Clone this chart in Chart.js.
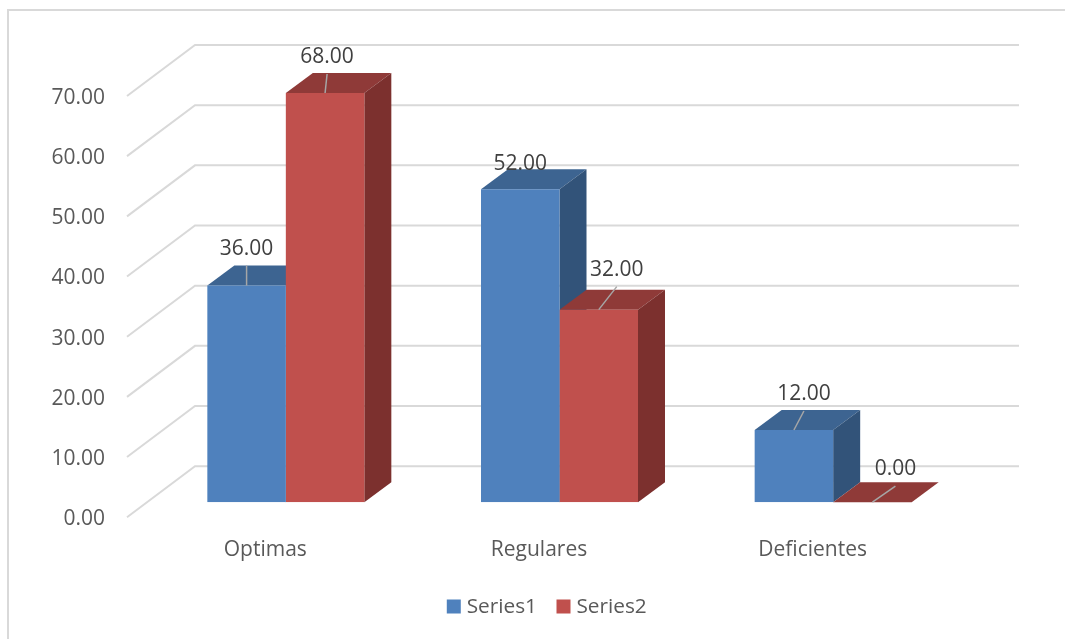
<!DOCTYPE html>
<html>
<head>
<meta charset="utf-8">
<style>
  html, body { margin: 0; padding: 0; background: #fff; overflow: hidden; }
  #wrap { position: relative; width: 1065px; height: 639px; }
</style>
<script src="https://cdn.jsdelivr.net/npm/chart.js@4/dist/chart.umd.min.js"></script>
</head>
<body>
<div id="wrap"><canvas id="chart"></canvas></div>
<script>
const categories = ['Optimas', 'Regulares', 'Deficientes'];
const series1 = [36, 52, 12];
const series2 = [68, 32, 0];
const yTicks = [0, 10, 20, 30, 40, 50, 60, 70];

const FONT = '"Open Sans", sans-serif';

// extrusion of the bars, and of the floor/wall box around them
const BAR_DEPTH = { x: 27, y: -20 };
const FRONT_EDGE = { x: -22, y: 15 };
const BACK_WALL = { x: 46, y: -36 };
const WALL_RIGHT = 1019;

const shades = [
  { top: '#3d6491', side: '#325379' },
  { top: '#8f3a38', side: '#7c302e' },
];

// where each value label sits relative to the top of its bar, per dataset
const labelShift = [
  [[0, -38], [0, -26], [10, -37]],
  [[2, -37], [18, -41], [23, -34]],
];
// bar 52.00 has its label sitting on the bar, without a leader line
const noLeader = [[false, true, false], [false, false, false]];

const polygon = (ctx, points, color) => {
  ctx.fillStyle = color;
  ctx.beginPath();
  points.forEach(([x, y], i) => (i ? ctx.lineTo(x, y) : ctx.moveTo(x, y)));
  ctx.closePath();
  ctx.fill();
};

const chartFrame = {
  id: 'chartFrame',
  beforeDraw(chart) {
    const { ctx, width, height } = chart;
    ctx.save();
    ctx.strokeStyle = '#d9d9d9';
    ctx.lineWidth = 2;
    ctx.beginPath();
    ctx.moveTo(8, height);
    ctx.lineTo(8, 10);
    ctx.lineTo(width, 10);
    ctx.stroke();
    ctx.restore();
  },
};

// the legend is laid out against the plot width; nudge it to sit under the plot box
const legendNudge = {
  id: 'legendNudge',
  afterLayout(chart) {
    chart.legend.left += 64;
    chart.legend.right += 64;
    chart.legend.top -= 12;
    chart.legend.bottom -= 12;
  },
};

const wallGrid = {
  id: 'wallGrid',
  beforeDatasetsDraw(chart) {
    const { ctx, chartArea } = chart;
    const y = chart.scales.y;
    ctx.save();
    ctx.strokeStyle = '#d9d9d9';
    ctx.lineWidth = 2;
    yTicks.forEach((tick) => {
      const py = y.getPixelForValue(tick);
      ctx.beginPath();
      ctx.moveTo(chartArea.left + FRONT_EDGE.x, py + FRONT_EDGE.y);
      ctx.lineTo(chartArea.left + BACK_WALL.x, py + BACK_WALL.y);
      ctx.lineTo(WALL_RIGHT, py + BACK_WALL.y);
      ctx.stroke();
    });
    ctx.restore();
  },
};

const barDepth = {
  id: 'barDepth',
  beforeDatasetsDraw(chart) {
    const { ctx } = chart;
    const { x: dx, y: dy } = BAR_DEPTH;
    ctx.save();
    chart.data.datasets.forEach((set, d) => {
      chart.getDatasetMeta(d).data.forEach((bar) => {
        const left = bar.x - bar.width / 2;
        const right = bar.x + bar.width / 2;
        polygon(ctx, [[left, bar.y], [left + dx, bar.y + dy], [right + dx, bar.y + dy], [right, bar.y]], shades[d].top);
        polygon(ctx, [[right, bar.y], [right + dx, bar.y + dy], [right + dx, bar.base + dy], [right, bar.base]], shades[d].side);
      });
    });
    ctx.restore();
  },
};

const valueLabels = {
  id: 'valueLabels',
  afterDatasetsDraw(chart) {
    const { ctx } = chart;
    ctx.save();
    ctx.font = `21px ${FONT}`;
    ctx.textAlign = 'center';
    ctx.textBaseline = 'middle';
    chart.data.datasets.forEach((set, d) => {
      chart.getDatasetMeta(d).data.forEach((bar, i) => {
        const [sx, sy] = labelShift[d][i];
        if (!noLeader[d][i]) {
          ctx.strokeStyle = '#a6a6a6';
          ctx.lineWidth = 1.5;
          ctx.beginPath();
          ctx.moveTo(bar.x, bar.y);
          ctx.lineTo(bar.x + sx, bar.y + sy + 18);
          ctx.stroke();
        }
        ctx.fillStyle = '#404040';
        ctx.fillText(set.data[i].toFixed(2), bar.x + sx, bar.y + sy + 1);
      });
    });
    ctx.restore();
  },
};

new Chart(document.getElementById('chart'), {
  type: 'bar',
  data: {
    labels: categories,
    datasets: [
      { label: 'Series1', data: series1, backgroundColor: '#4f81bd' },
      { label: 'Series2', data: series2, backgroundColor: '#c0504d' },
    ],
  },
  options: {
    responsive: true,
    maintainAspectRatio: false,
    animation: false,
    datasets: { bar: { barPercentage: 1, categoryPercentage: 0.5737 } },
    layout: { padding: { top: 81, right: 95, bottom: 0, left: 0 } },
    plugins: {
      legend: {
        position: 'bottom',
        labels: {
          // a narrow layout box with a wider square keeps the text close to the swatch
          usePointStyle: true,
          pointStyle: 'rect',
          boxWidth: 5,
          boxHeight: 14,
          padding: 24,
          color: '#595959',
          font: { family: FONT, size: 20.8 },
        },
      },
      tooltip: { enabled: false },
    },
    scales: {
      x: {
        grid: { display: false },
        border: { display: false },
        ticks: {
          color: '#595959',
          font: { family: FONT, size: 21 },
          labelOffset: -20.5,
          padding: 27,
          maxRotation: 0,
        },
        afterFit(scale) { scale.height = 82; },
      },
      y: {
        min: 0,
        max: 70,
        grid: { display: false, drawTicks: false },
        border: { display: false },
        ticks: {
          stepSize: 10,
          color: '#595959',
          font: { family: FONT, size: 21 },
          labelOffset: 17,
          padding: 44,
          callback: (value) => value.toFixed(2),
        },
        afterFit(scale) { scale.width = 149; },
      },
    },
  },
  plugins: [chartFrame, legendNudge, wallGrid, barDepth, valueLabels],
});
</script>
</body>
</html>
